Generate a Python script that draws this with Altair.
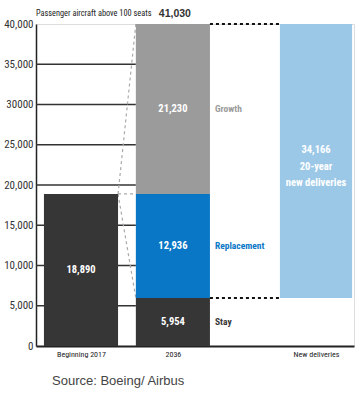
import altair as alt
import pandas as pd

# ---------------- data ----------------
categories = ["Beginning 2017", "2036", "New deliveries"]
fleet_2017 = 18890
segments_2036 = ["Stay", "Replacement", "Growth"]
values_2036 = [5954, 12936, 21230]
total_2036 = 41030
new_deliveries = 34166
new_deliveries_note = ["20-year", "new deliveries"]
y_ticks = [0, 5000, 10000, 15000, 20000, 25000, 30000, 35000, 40000]
y_tick_labels = ["0", "5,000", "10,000", "15,000", "20,000", "25,000", "30000", "35,000", "40,000"]
title_text = "Passenger aircraft above 100 seats"
source_text = "Source: Boeing/ Airbus"

# ---------------- layout / style ----------------
W, H = 318, 322
slot = {"Beginning 2017": (2.5, 25.8), "2036": (31.4, 54.7), "New deliveries": (76.7, 99.4)}
NARROW = "Liberation Sans Narrow, Roboto Condensed, Arial Narrow, sans-serif"
DARK = "#363636"
BLUE = "#0a77c6"
GREY = "#9b9b9b"
LIGHT = "#9cc8e8"

xs = alt.Scale(domain=[0, 100], nice=False, zero=False)
ys = alt.Scale(domain=[0, 40000], nice=False, clamp=True)


def chain(vals, labels):
    expr = "''"
    for v, l in zip(vals, labels):
        expr = f"datum.value == {v} ? '{l}' : ({expr})"
    return expr


centers = [(slot[c][0] + slot[c][1]) / 2 for c in categories]

# bars table
cum = [0]
for v in values_2036:
    cum.append(cum[-1] + v)
rows = [dict(cat=categories[0], seg="Fleet", y0=0, y1=fleet_2017, value=fleet_2017)]
for i, s in enumerate(segments_2036):
    rows.append(dict(cat=categories[1], seg=s, y0=cum[i], y1=cum[i + 1], value=values_2036[i]))
rows.append(dict(cat=categories[2], seg="New", y0=values_2036[0],
                 y1=values_2036[0] + new_deliveries, value=new_deliveries))
bars = pd.DataFrame(rows)
bars["x0"] = [slot[c][0] for c in bars["cat"]]
bars["x1"] = [slot[c][1] for c in bars["cat"]]
bars["ymid"] = [(a + min(b, 40000)) / 2 for a, b in zip(bars["y0"], bars["y1"])]
bars["xmid"] = (bars["x0"] + bars["x1"]) / 2
bars["label"] = [f"{v:,}" for v in bars["value"]]
bars.loc[bars["seg"] == "New", "label"] = "\n".join([f"{new_deliveries:,}"] + new_deliveries_note)

seg_domain = ["Fleet", "Stay", "Replacement", "Growth", "New"]
seg_range = [DARK, DARK, BLUE, GREY, LIGHT]
color = alt.Color("seg:N", scale=alt.Scale(domain=seg_domain, range=seg_range), legend=None)

base = alt.Chart(bars)

bar_layer = base.mark_bar(clip=True).encode(
    x=alt.X("x0:Q", scale=xs, axis=alt.Axis(
        values=centers, labelExpr=chain(centers, categories), ticks=False, grid=False,
        title=None, domainColor="#222", domainWidth=2, labelFont=NARROW,
        labelFontSize=8, labelColor="#222", labelPadding=4)),
    x2="x1:Q",
    y=alt.Y("y0:Q", scale=ys, axis=alt.Axis(
        values=y_ticks, labelExpr=chain(y_ticks, y_tick_labels), ticks=False, grid=False,
        title=None, domainColor="#222", domainWidth=1.5, labelFont=NARROW,
        labelFontSize=11, labelColor="#333", labelPadding=3)),
    y2="y1:Q",
    color=color,
)

single = bars[bars["seg"] != "New"]
multi = bars[bars["seg"] == "New"]
in_text = alt.Chart(single).mark_text(color="white", font=NARROW, fontWeight="bold", fontSize=10.5,
                                      baseline="middle").encode(
    x=alt.X("xmid:Q", scale=xs), y=alt.Y("ymid:Q", scale=ys), text="label:N")
multi_text = alt.Chart(multi).mark_text(color="white", font=NARROW, fontWeight="bold", fontSize=10.5,
                                        baseline="middle", lineHeight=16.5, lineBreak="\n",
                                        dy=-11).encode(
    x=alt.X("xmid:Q", scale=xs), y=alt.Y("ymid:Q", scale=ys), text="label:N")

side = bars[bars["cat"] == categories[1]]
side_text = alt.Chart(side).mark_text(font=NARROW, fontWeight="bold", fontSize=9.5,
                                      align="left", baseline="middle", dx=5).encode(
    x=alt.X("x1:Q", scale=xs), y=alt.Y("ymid:Q", scale=ys), text="seg:N", color=color)

# gridlines (left of the 2036 column)
grid = pd.DataFrame({"y": y_ticks[1:-1]})
grid["x0"] = 0
grid["x1"] = slot["2036"][0]
grid_layer = alt.Chart(grid).mark_rule(color="#333", strokeWidth=1.5).encode(
    x=alt.X("x0:Q", scale=xs), x2="x1:Q", y=alt.Y("y:Q", scale=ys))

# grey dashed connectors from 2017 top to 2036 column
conn = pd.DataFrame({"ya": [fleet_2017] * 3,
                     "yb": [total_2036, fleet_2017, values_2036[0]]})
conn["xa"] = slot["Beginning 2017"][1]
conn["xb"] = slot["2036"][0]
conn_layer = alt.Chart(conn).mark_rule(color="#aaaaaa", strokeWidth=1.2, strokeDash=[3, 3]).encode(
    x=alt.X("xa:Q", scale=xs), x2="xb:Q", y=alt.Y("ya:Q", scale=ys), y2="yb:Q")

# black dotted lines from 2036 to new deliveries
dots = pd.DataFrame({"y": [total_2036, values_2036[0]]})
dots["x0"] = slot["2036"][1]
dots["x1"] = slot["New deliveries"][0]
dot_layer = alt.Chart(dots).mark_rule(color="#111", strokeWidth=2, strokeDash=[3, 3]).encode(
    x=alt.X("x0:Q", scale=xs), x2="x1:Q", y=alt.Y("y:Q", scale=ys))

# titles
title_layer = alt.Chart(pd.DataFrame({"t": [title_text]})).mark_text(
    font=NARROW, fontSize=8.3, color="#222", align="left", baseline="middle").encode(
    x=alt.value(0), y=alt.value(-10), text="t:N")
total_layer = alt.Chart(pd.DataFrame({"t": [f"{total_2036:,}"], "x": [centers[1]]})).mark_text(
    font="Liberation Sans, Arial, sans-serif", fontWeight="bold", fontSize=10.5, color="#333",
    align="center", baseline="middle", dx=2).encode(
    x=alt.X("x:Q", scale=xs), y=alt.value(-10), text="t:N")
source_layer = alt.Chart(pd.DataFrame({"t": [source_text]})).mark_text(
    font="Liberation Sans, Arial, sans-serif", fontSize=13, color="#444",
    align="left", baseline="middle").encode(
    x=alt.value(16), y=alt.value(357), text="t:N")

chart = alt.layer(
    grid_layer, conn_layer, bar_layer, dot_layer, in_text, multi_text, side_text,
    title_layer, total_layer, source_layer
).properties(
    width=W, height=H,
    padding={"left": 36, "top": 24, "right": 3, "bottom": 57},
    autosize=alt.AutoSizeParams(type="none"),
).configure_view(stroke=None).configure(background="white")

chart.save("out.html", embed_options={"renderer": "svg", "actions": False})
